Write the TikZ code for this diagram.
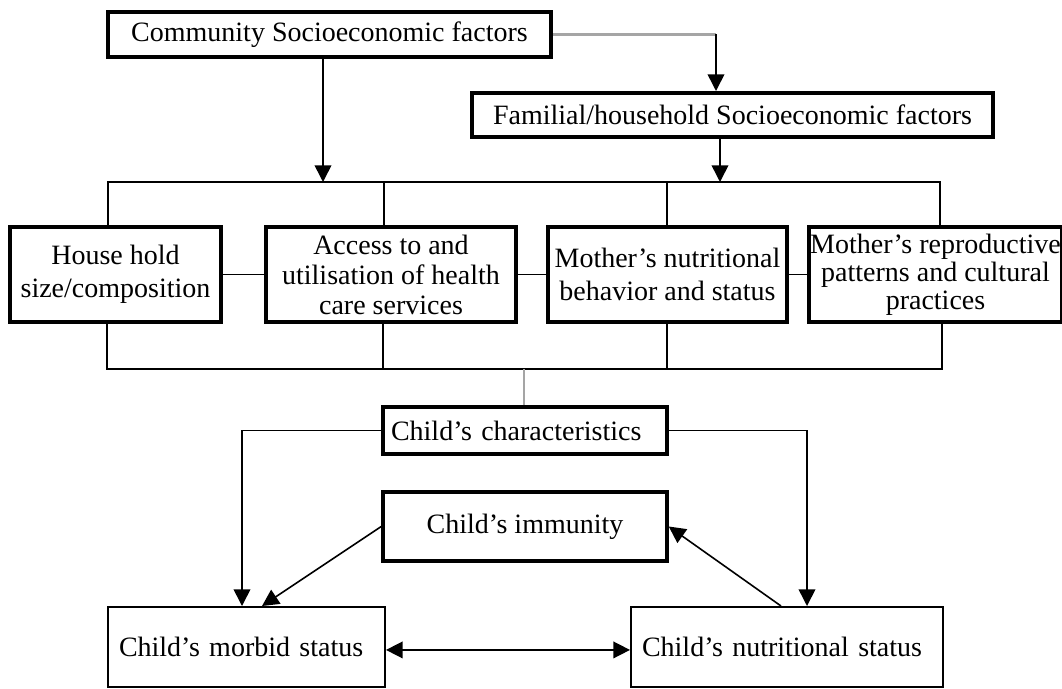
\documentclass[tikz,border=0pt]{standalone}
\usepackage{fontspec}
\setmainfont{Liberation Serif}
\usetikzlibrary{arrows.meta}
\definecolor{linegray}{RGB}{165,165,165}

\tikzset{
  boxtext/.style={font=\fontsize{21pt}{25pt}\selectfont},
  heavybox/.style={draw, line width=3pt, fill=white, inner sep=0pt, align=center, boxtext},
  midbox/.style={draw, line width=2.6pt, fill=white, inner sep=0pt, align=center, boxtext,
                 minimum height=71.25pt},
  lightbox/.style={draw, line width=1.5pt, fill=white, inner ysep=0pt, align=left, boxtext,
                   minimum height=60pt},
  wire/.style={line width=1.2pt, black},
  greywire/.style={line width=2pt, linegray},
  tip/.tip={Triangle[length=12.5pt,width=12.5pt]},
  arr/.style={wire, -tip},
  arrboth/.style={wire, tip-tip}
}

\begin{document}
\begin{tikzpicture}[x=0.75pt, y=-0.75pt]
\useasboundingbox (0,0) rectangle (1062,688);

% socioeconomic levels
\node[heavybox, minimum width=332.25pt, minimum height=33.75pt] (comm) at (329.5,34.5)
  {Community Socioeconomic factors};
\node[heavybox, minimum width=390.75pt, minimum height=33pt] (fam) at (732.5,115)
  {Familial/household Socioeconomic factors};

% intermediate determinants
\node[midbox, minimum width=158.25pt] (hh) at (115.5,274.5)
  {House hold\\size/composition};
\node[midbox, minimum width=187.5pt, font=\fontsize{21pt}{22.5pt}\selectfont] (acc) at (391,274.5)
  {Access to and\\utilisation of health\\care services};
\node[midbox, minimum width=179.25pt] (mnut) at (667.5,274.5)
  {Mother's nutritional\\behavior and status};
\node[midbox, minimum width=189.75pt, font=\fontsize{21pt}{21pt}\selectfont] (mrep) at (935.5,274.5)
  {Mother's reproductive\\patterns and cultural\\practices};

% child level
\node[heavybox, align=left, text width=201pt, inner xsep=6pt, minimum height=35.25pt] (char) at (525,430.5)
  {Child's characteristics};
\node[heavybox, line width=2.6pt, minimum width=213pt, minimum height=51.75pt] (imm) at (525,526.5)
  {Child's immunity};
\node[lightbox, text width=191.25pt, inner xsep=8.25pt] (morb) at (246.5,647)
  {Child's morbid status};
\node[lightbox, text width=217.5pt, inner xsep=8.25pt] (nut) at (787,647)
  {Child's nutritional status};

% helper positions for the buses and bends
\coordinate (cf) at (716,0);
\coordinate (ca) at (323,182);
\coordinate (fa) at (720,182);
\coordinate (t1) at (108,182);
\coordinate (t2) at (384,182);
\coordinate (t3) at (667,182);
\coordinate (t4) at (940,182);
\coordinate (b1) at (107,369);
\coordinate (b2) at (383,369);
\coordinate (b3) at (667,369);
\coordinate (b4) at (942,369);
\coordinate (g)  at (524,369);
\coordinate (cl) at (242,0);
\coordinate (cr) at (807,0);
\coordinate (mt) at (262,0);
\coordinate (nt) at (781,0);

% community -> household
\draw[greywire] (comm.east) -- (comm.east -| cf);
\draw[arr] (comm.east -| cf) -- (cf |- fam.north);

% arrows into the top bus
\draw[arr] (ca |- comm.south) -- (ca);
\draw[arr] (fa |- fam.south) -- (fa);

% top bus
\draw[wire] (t1 |- hh.north) -- (t1) -- (t4) -- (t4 |- mrep.north);
\draw[wire] (t2) -- (t2 |- acc.north);
\draw[wire] (t3) -- (t3 |- mnut.north);

% links between the four determinants
\draw[wire] (hh.east) -- (acc.west);
\draw[wire] (acc.east) -- (mnut.west);
\draw[wire] (mnut.east) -- (mrep.west);

% bottom bus
\draw[wire] (b1 |- hh.south) -- (b1) -- (b4) -- (b4 |- mrep.south);
\draw[wire] (b2 |- acc.south) -- (b2);
\draw[wire] (b3 |- mnut.south) -- (b3);
\draw[greywire] (g) -- (g |- char.north);

% child characteristics to outcomes
\draw[arr] (char.west) -| (cl |- morb.north);
\draw[arr] (char.east) -| (cr |- nut.north);

% immunity loop
\draw[arr] (imm.west) -- (mt |- morb.north);
\draw[arr] (nt |- nut.north) -- (imm.east);

% morbidity <-> nutrition
\draw[arrboth] ([yshift=-2.2pt]morb.east) -- ([yshift=-2.2pt]nut.west);
\end{tikzpicture}
\end{document}
